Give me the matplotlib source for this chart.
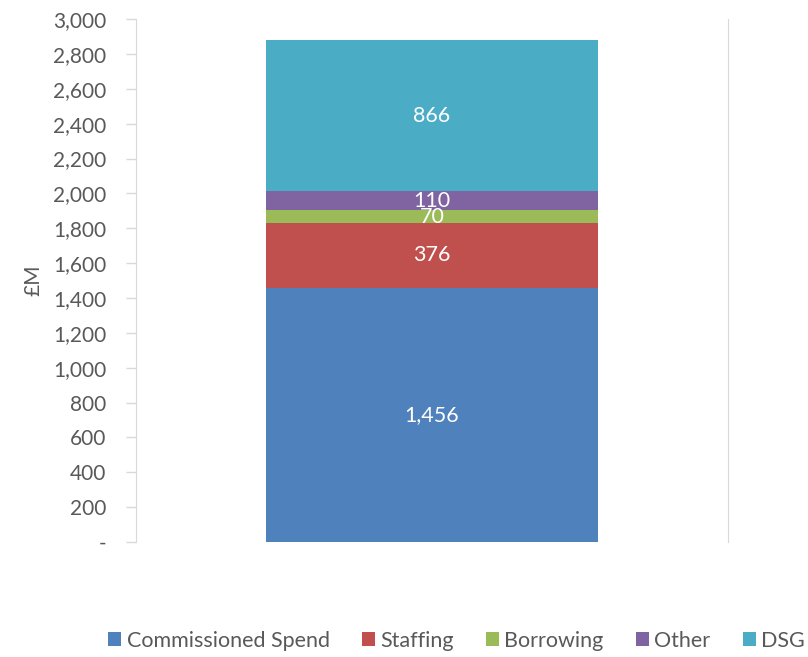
import matplotlib.pyplot as plt
from matplotlib.ticker import FuncFormatter

categories = ["Commissioned Spend", "Staffing", "Borrowing", "Other", "DSG"]
values = [1456, 376, 70, 110, 866]
colors = ["#4F81BD", "#C0504D", "#9BBB59", "#8064A2", "#4BACC6"]

plt.rcParams['font.family'] = ['Lato', 'DejaVu Sans']


def fmt_tick(v, pos):
    if v == 0:
        return "-"
    return "{:,.0f}".format(v)


fig = plt.figure(figsize=(8.08, 6.57), dpi=100)
ax = fig.add_axes([0.168, 0.175, 0.733, 0.796])

bottom = 0
for name, val, col in zip(categories, values, colors):
    bars = ax.bar(0, val, width=0.56, bottom=bottom, color=col, label=name)
    ax.bar_label(bars, labels=["{:,}".format(val)], label_type='center',
                 color='white', fontsize=15.5)
    bottom += val

ax.set_xlim(-0.5, 0.5)
ax.set_ylim(0, 3000)
ax.set_yticks(range(0, 3001, 200))
ax.yaxis.set_major_formatter(FuncFormatter(fmt_tick))
ax.set_xticks([])
ax.tick_params(axis='y', colors='#D9D9D9', labelcolor='#595959',
               labelsize=15, length=7, width=1, pad=14)

for side in ['top', 'bottom']:
    ax.spines[side].set_visible(False)
ax.spines['left'].set_color('#D9D9D9')
ax.spines['right'].set_color('#D9D9D9')

ax.set_ylabel("£M", color='#595959', fontsize=15, labelpad=7)

fig.legend(loc='lower center', bbox_to_anchor=(0.565, -0.02), ncol=5,
           frameon=False, fontsize=15.5, handlelength=0.6, handleheight=0.6,
           handletextpad=0.25, columnspacing=1.5, labelcolor='#595959')

fig.savefig("out.png", dpi=100)
